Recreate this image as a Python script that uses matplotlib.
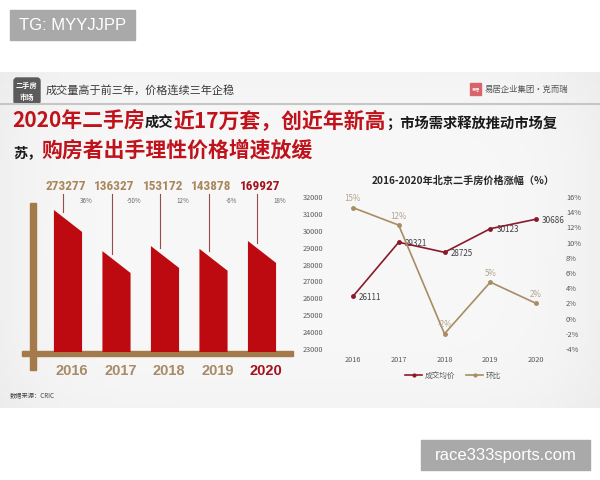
import matplotlib
matplotlib.use("Agg")
import matplotlib.pyplot as plt
import numpy as np
from matplotlib import font_manager
from matplotlib.patches import Rectangle, FancyBboxPatch
from matplotlib.lines import Line2D

W, H = 600, 480
CJK = ["Noto Sans CJK SC", "DejaVu Sans"]
plt.rcParams["font.family"] = CJK

# -- data ---------------------------------------------------------------------
years = ["2016", "2017", "2018", "2019", "2020"]
deals = [273277, 136327, 153172, 143878, 169927]          # 成交套数
deal_growth = ["36%", "-50%", "12%", "-6%", "18%"]
avg_price = [26111, 29321, 28725, 30123, 30686]           # 成交均价
price_mom = [14.6, 12.3, -2.0, 4.8, 2.0]                  # 环比 (%)

RED = "#bd0a10"
DARK_RED = "#a3121f"
BROWN = "#a57a4b"
TAN_TXT = "#a8875c"
LINE_RED = "#8a1a2a"
LINE_TAN = "#a88c63"

names = {f.name for f in font_manager.fontManager.ttflist}
NARROW = "Liberation Sans"
for cand in ["Liberation Sans Narrow", "Roboto Condensed", "Open Sans Condensed", "Arial Narrow"]:
    if cand in names:
        NARROW = cand
        break
NARROW_SIZE = 9.5 if NARROW != "Liberation Sans" else 8

fig = plt.figure(figsize=(6, 4.8), dpi=100)


def box(x0, y0, x1, y1):
    return [x0 / W, 1 - y1 / H, (x1 - x0) / W, (y1 - y0) / H]


# -- background / slide (pixel coordinates) ---------------------------------
bg = fig.add_axes([0, 0, 1, 1])
bg.set_xlim(0, W)
bg.set_ylim(H, 0)
bg.axis("off")

gx = np.linspace(-1, 1, 120)
gy = np.linspace(-1, 1, 60)
GX, GY = np.meshgrid(gx, gy)
shade = 0.972 - 0.03 * (GX ** 6) - 0.015 * (GY ** 4)
bg.imshow(np.dstack([shade] * 3), extent=(0, W, 408, 72), aspect="auto", zorder=0)

# header
bg.add_patch(FancyBboxPatch((14, 78), 26, 26, boxstyle="round,pad=0,rounding_size=3",
                            color="#5b5b5b", zorder=2))
bg.text(27, 85, "二手房", color="white", fontsize=5.2, fontweight="bold", ha="center", va="center", zorder=3)
bg.text(27, 97, "市场", color="white", fontsize=5.2, fontweight="bold", ha="center", va="center", zorder=3)
bg.text(46, 90, "成交量高于前三年，价格连续三年企稳", fontsize=8, color="#3a3a3a", va="center")
bg.add_patch(Rectangle((470, 83), 11, 12, color="#d9646b", zorder=2))
bg.text(475.5, 89, "易居", color="white", fontsize=3, ha="center", va="center", zorder=3)
bg.text(485, 89.5, "易居企业集团·克而瑞", fontsize=6, color="#555555", va="center")
bg.plot([0, W], [103.5, 103.5], color="#c6c6c6", lw=1.5, zorder=2)

# headline, segments placed one after another
renderer = fig.canvas.get_renderer()


def run(segments, x, y):
    for s, size, color in segments:
        t = bg.text(x, y, s, fontsize=size, color=color, fontweight="bold",
                    va="baseline", ha="left")
        x += t.get_window_extent(renderer).width


BIG, SMALL = 15, 10.3
run([("2020年二手房", BIG, "#c0121b"), ("成交", SMALL, "#1a1a1a"),
     ("近17万套，创近年新高", BIG, "#c0121b"),
     ("；市场需求释放推动市场复", SMALL, "#1a1a1a")], 12, 128)
run([("苏，", SMALL, "#1a1a1a"), ("购房者出手理性价格增速放缓", BIG, "#c0121b")], 13, 157)

bg.text(10, 396, "数据来源：CRIC", fontsize=4.5, color="#444444", va="center")

# -- left: deals bar chart ----------------------------------------------------
PX_PER = 0.0003        # pixels per unit
BASE = -200000         # floor of the bar axis
DROP = 73000           # slanted top
ax = fig.add_axes(box(22, 170, 293, 352))
ax.set_xlim(-0.948, 4.639)
ax.set_ylim(BASE, BASE + 182 / PX_PER)
ax.axis("off")
ax.patch.set_alpha(0)


def yv(px):
    return BASE + (352 - px) / PX_PER


for i, v in enumerate(deals):
    xs = [i - 0.29, i - 0.29, i + 0.29, i + 0.29]
    ys = [BASE, v, v - DROP, BASE]
    ax.fill(xs, ys, color=RED, lw=0, zorder=2)
    ax.plot([i - 0.1, i - 0.1], [yv(194), v - 8000], color="#9c4a4a", lw=0.8, zorder=3)
    ax.text(i - 0.04, yv(187), f"{v}", family=NARROW, fontstretch="condensed",
            fontweight="bold", fontsize=NARROW_SIZE, ha="center", va="center",
            color=DARK_RED if i == len(deals) - 1 else TAN_TXT)
    ax.text(i + 0.37, yv(201), deal_growth[i], fontsize=4.5, color="#666666",
            ha="center", va="center")
    ax.text(i + 0.08, yv(371), years[i], family="Liberation Sans", fontweight="bold",
            fontsize=10.5, ha="center", va="center", clip_on=False,
            color=DARK_RED if i == len(years) - 1 else "#a88a6a")

bg.add_patch(Rectangle((30, 203), 6, 167, color=BROWN, zorder=3))
bg.add_patch(Rectangle((22, 351), 271, 5, color=BROWN, zorder=3))

# -- right: price line chart --------------------------------------------------
bg.text(463, 181, "2016-2020年北京二手房价格涨幅（%）", fontsize=7.3, fontweight="bold",
        ha="center", va="center", color="#262626")

x = np.arange(len(years))
ax3 = fig.add_axes(box(330, 197, 559, 349))
ax3.patch.set_alpha(0)
ax3.set_xlim(-0.5, 4.5)
ax3.set_ylim(23000, 32000)
ax3.set_yticks(range(23000, 32001, 1000))
ax3.set_xticks(x)
ax3.set_xticklabels(years)
ax4 = ax3.twinx()
ax4.set_ylim(-4, 16)
ax4.set_yticks(range(-4, 17, 2))
ax4.set_yticklabels([f"{t}%" for t in range(-4, 17, 2)])
for a in (ax3, ax4):
    for s in a.spines.values():
        s.set_visible(False)
    a.tick_params(length=0, labelsize=5.3, colors="#595959", pad=5)

ax3.plot(x, avg_price, color=LINE_RED, lw=1.2, marker="o", ms=2.5, zorder=4)
for xi, v in zip(x, avg_price):
    ax3.annotate(f"{v}", (xi, v), xytext=(6, -1), textcoords="offset pixels",
                 fontsize=5.8, color="#404040", ha="left", va="center")
ax4.plot(x, price_mom, color=LINE_TAN, lw=1.2, marker="o", ms=2.5, zorder=3)
for xi, v in zip(x, price_mom):
    ax4.annotate(f"{round(v)}%", (xi, v), xytext=(0, 9), textcoords="offset pixels",
                 fontsize=5.8, color="#b3a48f", ha="center", va="center")

handles = [Line2D([], [], color=LINE_RED, lw=1.2, marker="o", ms=2),
           Line2D([], [], color=LINE_TAN, lw=1.2, marker="o", ms=2)]
leg = fig.legend(handles, ["成交均价", "环比"], loc="center", bbox_to_anchor=(453 / W, 1 - 376 / H),
                 ncol=2, frameon=False, fontsize=5.5, handlelength=2.2, handletextpad=0.3,
                 columnspacing=1.5)
for t in leg.get_texts():
    t.set_color("#595959")

# -- watermarks ---------------------------------------------------------------
bg.add_patch(Rectangle((10, 10), 125, 30, color="#a9a9a9", zorder=5))
bg.text(72.5, 25.5, "TG: MYYJJPP", family="Liberation Sans", fontsize=12, color="white",
        ha="center", va="center", zorder=6)
bg.add_patch(Rectangle((421, 440), 169, 30, color="#a9a9a9", zorder=5))
bg.text(505.5, 455.5, "race333sports.com", family="Liberation Sans", fontsize=12, color="white",
        ha="center", va="center", zorder=6)

fig.savefig("out.png", dpi=100)
